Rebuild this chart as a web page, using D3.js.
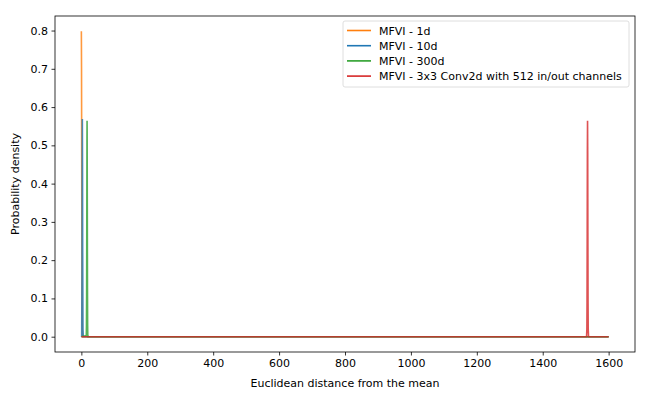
<!DOCTYPE html>
<html>
<head>
<meta charset="utf-8">
<script src="https://cdn.jsdelivr.net/npm/d3@7"></script>
<style>
  body { margin: 0; background: #fff; }
  text { font-family: "DejaVu Sans", sans-serif; }
</style>
</head>
<body>
<div id="chart"></div>
<script>
// distances (x) and densities (y)
const x1d = [0, 0.5, 1, 1.5, 2, 2.5, 3, 4, 1600];
const y1d = [0.798, 0.704, 0.484, 0.259, 0.108, 0.035, 0.009, 0.0, 0.0];

const x10d = [0, 1, 2, 2.5, 3, 3.5, 4, 5, 6, 1600];
const y10d = [0.0, 0.002, 0.180, 0.436, 0.569, 0.450, 0.229, 0.019, 0.0, 0.0];

const x300d = [0, 15, 15.5, 16, 16.5, 17, 17.3, 17.5, 18, 18.5, 19, 19.5, 20, 1600];
const y300d = [0.0, 0.003, 0.03, 0.11, 0.30, 0.51, 0.564, 0.54, 0.35, 0.13, 0.03, 0.004, 0.0, 0.0];

const xConv = [0, 1533, 1534, 1534.5, 1535, 1535.5, 1536, 1536.5, 1537, 1537.5, 1538, 1539, 1600];
const yConv = [0.0, 0.0, 0.02, 0.09, 0.27, 0.48, 0.564, 0.48, 0.27, 0.09, 0.02, 0.0, 0.0];

const labels = ["MFVI - 1d", "MFVI - 10d", "MFVI - 300d", "MFVI - 3x3 Conv2d with 512 in/out channels"];
const colors = ["#ff7f0e", "#1f77b4", "#2ca02c", "#d62728"];
const xs = [x1d, x10d, x300d, xConv];
const ys = [y1d, y10d, y300d, yConv];

const xTicks = [0, 200, 400, 600, 800, 1000, 1200, 1400, 1600];
const yTicks = [0.0, 0.1, 0.2, 0.3, 0.4, 0.5, 0.6, 0.7, 0.8];

const width = 650;
const height = 400;
const margin = { top: 16, right: 15, bottom: 48, left: 55 };
const fs = "11px";

const svg = d3.select("#chart")
  .append("svg")
  .attr("width", width)
  .attr("height", height);

const x = d3.scaleLinear()
  .domain([-80, 1680])
  .range([margin.left, width - margin.right]);

const y = d3.scaleLinear()
  .domain([-0.04, 0.838])
  .range([height - margin.bottom, margin.top]);

const line = d3.line()
  .x(d => x(d[0]))
  .y(d => y(d[1]));

xs.forEach((xv, i) => {
  const pts = xv.map((v, j) => [v, ys[i][j]]);
  svg.append("path")
    .datum(pts)
    .attr("fill", "none")
    .attr("stroke", colors[i])
    .attr("stroke-width", 1.6)
    .attr("stroke-opacity", 0.8)
    .attr("d", line);
});

// axes
const xAxis = svg.append("g")
  .attr("transform", `translate(0,${height - margin.bottom})`)
  .call(d3.axisBottom(x).tickValues(xTicks).tickSize(3.5).tickPadding(3.5).tickFormat(d3.format("d")));

const yAxis = svg.append("g")
  .attr("transform", `translate(${margin.left},0)`)
  .call(d3.axisLeft(y).tickValues(yTicks).tickSize(3.5).tickPadding(3.5).tickFormat(d3.format(".1f")));

[xAxis, yAxis].forEach(g => {
  g.select(".domain").remove();
  g.selectAll("text").attr("font-size", fs).attr("fill", "#000").attr("font-family", "DejaVu Sans");
  g.selectAll("line").attr("stroke", "#000").attr("stroke-width", 0.8);
});

// frame
svg.append("rect")
  .attr("x", margin.left)
  .attr("y", margin.top)
  .attr("width", width - margin.left - margin.right)
  .attr("height", height - margin.top - margin.bottom)
  .attr("fill", "none")
  .attr("stroke", "#000")
  .attr("stroke-width", 0.8);

svg.append("text")
  .attr("x", (margin.left + width - margin.right) / 2)
  .attr("y", 387)
  .attr("text-anchor", "middle")
  .attr("font-size", fs)
  .text("Euclidean distance from the mean");

svg.append("text")
  .attr("transform", `translate(19,${(margin.top + height - margin.bottom) / 2}) rotate(-90)`)
  .attr("text-anchor", "middle")
  .attr("font-size", fs)
  .text("Probability density");

// legend
const lg = svg.append("g").attr("transform", "translate(343,21)");
lg.append("rect")
  .attr("width", 286)
  .attr("height", 66)
  .attr("rx", 2)
  .attr("fill", "#fff")
  .attr("fill-opacity", 0.8)
  .attr("stroke", "#d6d6d6")
  .attr("stroke-width", 0.8);

labels.forEach((t, i) => {
  const yy = 9.5 + i * 15.2;
  lg.append("line")
    .attr("x1", 4).attr("x2", 28)
    .attr("y1", yy).attr("y2", yy)
    .attr("stroke", colors[i])
    .attr("stroke-width", 1.6);
  lg.append("text")
    .attr("x", 36)
    .attr("y", yy + 4)
    .attr("font-size", fs)
    .text(t);
});
</script>
</body>
</html>
